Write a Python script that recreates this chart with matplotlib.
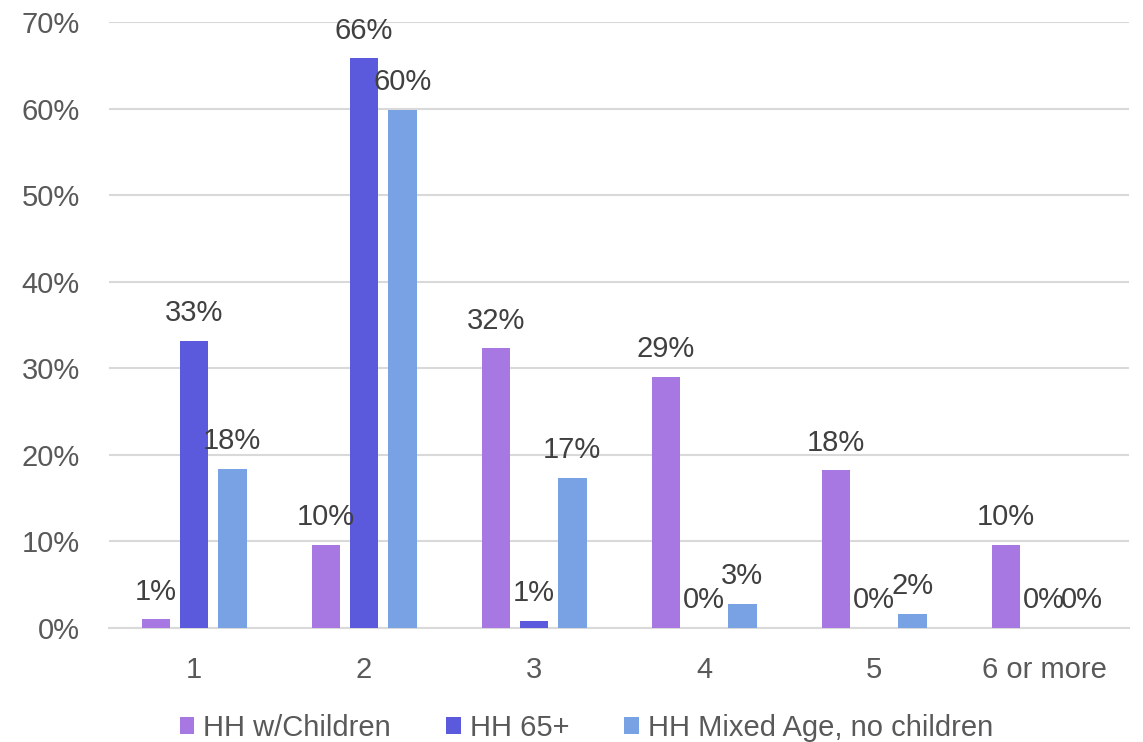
import numpy as np
import matplotlib.pyplot as plt

plt.rcParams['font.family'] = ['Liberation Sans', 'DejaVu Sans']

categories = ['1', '2', '3', '4', '5', '6 or more']
series_names = ['HH w/Children', 'HH 65+', 'HH Mixed Age, no children']
hh_children = [1.0, 9.6, 32.3, 29.0, 18.2, 9.6]
hh_65 = [33.2, 65.8, 0.8, 0.0, 0.0, 0.0]
hh_mixed = [18.4, 59.8, 17.3, 2.8, 1.6, 0.0]
colors = ['#a778e2', '#5c5adc', '#78a2e3']

fig = plt.figure(figsize=(11.43, 7.42), dpi=100)
ax = fig.add_axes([0.0954, 0.1536, 0.8924, 0.8168])

x = np.arange(len(categories))
width = 0.17
step = 0.224
for i, (vals, name, c) in enumerate(zip([hh_children, hh_65, hh_mixed], series_names, colors)):
    xs = x + (i - 1) * step
    ax.bar(xs, vals, width=width, color=c, label=name, zorder=3)
    for xi, v in zip(xs, vals):
        ax.annotate(f'{v:.0f}%', (xi, v), xytext=(0, 20), textcoords='offset points',
                    ha='center', va='center', fontsize=21, color='#404040', zorder=4)

ax.set_xlim(-0.5, len(categories) - 0.5)
ax.set_ylim(0, 70)
ax.set_yticks(np.arange(0, 71, 10))
ax.set_yticklabels([f'{t}%' for t in range(0, 71, 10)])
ax.set_xticks(x)
ax.set_xticklabels(categories)
ax.tick_params(axis='y', length=0, pad=21, labelsize=21, labelcolor='#595959')
ax.tick_params(axis='x', length=0, pad=20, labelsize=21, labelcolor='#595959')
ax.grid(axis='y', color='#d9d9d9', linewidth=1.5, zorder=0)
for s in ['top', 'right', 'left']:
    ax.spines[s].set_visible(False)
ax.spines['bottom'].set_color('#d9d9d9')
ax.spines['bottom'].set_linewidth(1.5)

fig.legend(loc='center', bbox_to_anchor=(0.513, 0.019), ncol=3, frameon=False,
           fontsize=21, labelcolor='#595959', handlelength=0.5, handleheight=0.5,
           handletextpad=0.3, columnspacing=1.9)

fig.savefig('out.png', dpi=100)
